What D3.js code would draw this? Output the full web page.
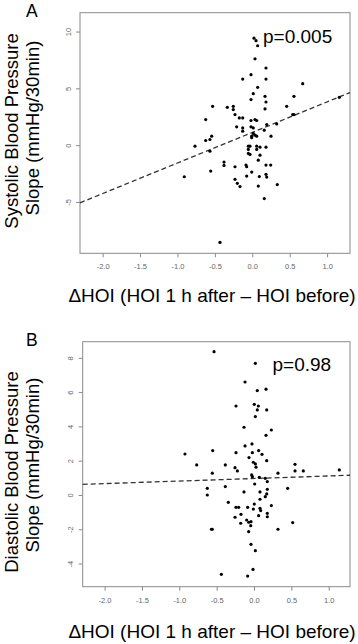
<!DOCTYPE html>
<html>
<head>
<meta charset="utf-8">
<script src="https://cdn.jsdelivr.net/npm/d3@7"></script>
<style>
  body { margin: 0; background: #fff; }
  svg { display: block; font-family: "Liberation Sans", Arial, sans-serif; }
</style>
</head>
<body>
<div id="chart"></div>
<script>
// data: [ΔHOI, slope]
const systolicPoints = [
  [0.023, 9.42], [0.05, 9.2], [0.072, 8.75], [0.036, 7.6], [0.183, 6.79], [-0.017, 6.2],
  [-0.128, 5.82], [0.183, 5.82], [0.674, 5.41], [0.072, 5.09], [0.013, 4.53], [0.557, 4.3],
  [0.17, 4.3], [-0.017, 4.01], [0.183, 3.8], [1.163, 4.21], [-0.53, 3.42], [-0.334, 3.33],
  [-0.254, 3.42], [-0.254, 3.13], [0.46, 3.42], [0.17, 3.19], [-0.231, 2.69], [0.54, 2.69],
  [0.557, 2.69], [-0.174, 2.4], [-0.128, 2.4], [-0.623, 2.25], [-0.017, 2.17], [0.036, 2.25],
  [0.059, 2.17], [0.193, 1.82], [0.326, 1.87], [-0.209, 1.61], [-0.128, 1.52], [-0.128, 1.23],
  [-0.017, 1.61], [0.013, 1.52], [0.16, 1.32], [0.013, 1.03], [0.036, 0.88], [0.059, 0.79],
  [-0.008, 0.79], [-0.008, 0.65], [-0.543, 0.79], [-0.566, 0.5], [-0.623, 0.41], [0.25, 0.79],
  [-0.766, -0.09], [-0.053, -0.09], [-0.031, -0.09], [0.059, -0.09], [0.103, -0.18], [0.183, -0.18],
  [-0.566, -0.53], [-0.053, -0.38], [0.059, -0.38], [-0.053, -0.73], [-0.031, -0.82], [0.103, -0.88],
  [0.08, -1.32], [-0.378, -1.49], [-0.378, -1.78], [-0.231, -1.9], [-0.084, -1.75], [-0.075, -1.9],
  [0.183, -1.75], [0.246, -1.75], [-0.556, -2.28], [-0.008, -2.37], [-0.909, -2.78], [0.183, -2.57],
  [0.193, -2.81], [-0.075, -2.72], [0.094, -2.77], [-0.231, -3.01], [-0.2, -3.36], [-0.164, -3.65],
  [0.08, -3.6], [0.334, -3.47], [0.16, -4.7], [-0.432, -8.56]
];

const diastolicPoints = [
  [-0.535, 8.36], [0.018, 7.68], [-0.12, 6.59], [0.044, 6.09], [0.161, 6.17], [-0.241, 5.19],
  [0.004, 5.29], [0.058, 5.19], [0.044, 4.96], [0.17, 4.96], [0.018, 4.57], [-0.134, 3.95],
  [0.232, 3.79], [0.161, 3.48], [-0.924, 2.39], [-0.553, 2.59], [-0.241, 2.47], [-0.12, 2.86],
  [-0.027, 2.98], [-0.022, 2.47], [0.062, 2.59], [0.107, 2.37], [-0.067, 2.18], [-0.009, 1.91],
  [0.018, 1.81], [0.027, 1.62], [0.17, 2.0], [-0.767, 1.75], [-0.384, 1.75], [-0.254, 1.59],
  [-0.223, 1.4], [-0.558, 1.27], [0.321, 1.27], [0.549, 1.79], [0.549, 1.4], [0.66, 1.4],
  [1.142, 1.46], [-0.031, 1.17], [-0.022, 1.07], [0.071, 1.03], [0.151, 0.97], [0.178, 0.78],
  [0.009, 0.64], [-0.625, 0.39], [-0.625, 0.0], [-0.384, 0.49], [0.451, 0.39], [0.178, 0.33],
  [0.08, 0.18], [0.17, 0.06], [0.151, -0.1], [-0.134, 0.18], [0.08, -0.25], [-0.344, -0.43],
  [0.232, -0.62], [-0.241, -0.72], [-0.205, -0.72], [-0.085, -0.72], [0.004, -0.53], [-0.009, -0.82],
  [0.08, -0.78], [0.089, -0.91], [0.062, -1.21], [0.178, -1.07], [0.178, -1.27], [-0.254, -1.3],
  [-0.174, -1.13], [-0.178, -1.65], [-0.098, -1.46], [-0.071, -1.59], [-0.04, -1.56], [-0.044, -1.79],
  [-0.071, -2.14], [-0.57, -2.0], [-0.558, -2.0], [0.321, -2.0], [0.518, -1.61], [-0.04, -2.88],
  [0.018, -3.25], [-0.437, -4.63], [-0.013, -4.34], [-0.085, -4.73]
];

// fitted lines [intercept, slope]
const systolicFit = [1.12, 2.69];
const diastolicFit = [0.96, 0.148];

const xTicks = [-2.0, -1.5, -1.0, -0.5, 0.0, 0.5, 1.0];
const systolicTicks = [-5, 0, 5, 10];
const diastolicTicks = [-4, -2, 0, 2, 4, 6, 8];

const pValues = ["p=0.005", "p=0.98"];
const panelLetters = ["A", "B"];
const yTitles = [
  ["Systolic Blood Pressure", "Slope (mmHg/30min)"],
  ["Diastolic Blood Pressure", "Slope (mmHg/30min)"]
];
const xTitle = "\u0394HOI (HOI 1 h after \u2013 HOI before)";

const W = 358, H = 644;
const svg = d3.select("#chart").append("svg")
  .attr("width", W)
  .attr("height", H);

const hyphen = d => String(d).replace("\u2212", "-");

const panels = [
  {
    points: systolicPoints, fit: systolicFit, yTicks: systolicTicks,
    xDomain: [-2.303, 1.306], yDomain: [-9.52, 11.66],
    left: 80, right: 350, top: 12.7, bottom: 253.3,
    xFmt: d3.format(".1f"), yFmt: d3.format("d"),
    letter: panelLetters[0], p: pValues[0], pPos: [263, 43],
    title: yTitles[0], titleY: [131, 128], xTitleY: 301.5
  },
  {
    points: diastolicPoints, fit: diastolicFit, yTicks: diastolicTicks,
    xDomain: [-2.293, 1.285], yDomain: [-5.35, 8.94],
    left: 82.7, right: 350, top: 341.7, bottom: 586.7,
    xFmt: d3.format(".1f"), yFmt: d3.format("d"),
    letter: panelLetters[1], p: pValues[1], pPos: [272.5, 370.5],
    title: yTitles[1], titleY: [472, 465], xTitleY: 638
  }
];

panels.forEach(drawPanel);

function drawPanel(pn) {
  const x = d3.scaleLinear().domain(pn.xDomain).range([pn.left, pn.right]);
  const y = d3.scaleLinear().domain(pn.yDomain).range([pn.bottom, pn.top]);
  const g = svg.append("g");

  // box
  g.append("rect")
    .attr("x", pn.left)
    .attr("y", pn.top)
    .attr("width", pn.right - pn.left)
    .attr("height", pn.bottom - pn.top)
    .attr("fill", "none")
    .attr("stroke", "#8a8a8a")
    .attr("stroke-width", 1);

  const xAxis = g.append("g")
    .attr("transform", `translate(0,${pn.bottom})`)
    .call(d3.axisBottom(x).tickValues(xTicks).tickSize(4).tickFormat(d => hyphen(pn.xFmt(d))));
  xAxis.select(".domain").remove();
  xAxis.selectAll("line").attr("stroke", "#8a8a8a");
  xAxis.selectAll("text")
    .attr("y", 10.5)
    .attr("fill", "#666")
    .style("font-size", "7.5px");

  const yAxis = g.append("g")
    .attr("transform", `translate(${pn.left},0)`)
    .call(d3.axisLeft(y).tickValues(pn.yTicks).tickSize(4).tickFormat(d => hyphen(pn.yFmt(d))));
  yAxis.select(".domain").remove();
  yAxis.selectAll("line").attr("stroke", "#8a8a8a");
  yAxis.selectAll("text")
    .attr("x", null)
    .attr("dy", "0.35em")
    .attr("text-anchor", "middle")
    .attr("transform", "translate(-12,0) rotate(-90)")
    .attr("fill", "#666")
    .style("font-size", "7.5px");

  // regression line across the whole plot
  const [b0, b1] = pn.fit;
  g.append("line")
    .attr("x1", x(pn.xDomain[0]))
    .attr("y1", y(b0 + b1 * pn.xDomain[0]))
    .attr("x2", x(pn.xDomain[1]))
    .attr("y2", y(b0 + b1 * pn.xDomain[1]))
    .attr("stroke", "#333")
    .attr("stroke-width", 1.3)
    .attr("stroke-dasharray", "5,3");

  g.selectAll("circle.pt")
    .data(pn.points)
    .enter()
    .append("circle")
    .attr("class", "pt")
    .attr("cx", d => x(d[0]))
    .attr("cy", d => y(d[1]))
    .attr("r", 1.6)
    .attr("fill", "#000");

  g.append("text")
    .attr("x", pn.pPos[0])
    .attr("y", pn.pPos[1])
    .style("font-size", "19px")
    .text(pn.p);

  g.append("text")
    .attr("x", 26)
    .attr("y", pn.top + 4)
    .style("font-size", "17.5px")
    .text(pn.letter);

  // two-line y title
  pn.title.forEach((t, i) => {
    g.append("text")
      .attr("transform", `translate(${i === 0 ? 17.5 : 38.5},${pn.titleY[i]}) rotate(-90)`)
      .attr("text-anchor", "middle")
      .style("font-size", "18.5px")
      .text(t);
  });

  g.append("text")
    .attr("x", 212)
    .attr("y", pn.xTitleY)
    .attr("text-anchor", "middle")
    .style("font-size", "19px")
    .text(xTitle);
}
</script>
</body>
</html>
